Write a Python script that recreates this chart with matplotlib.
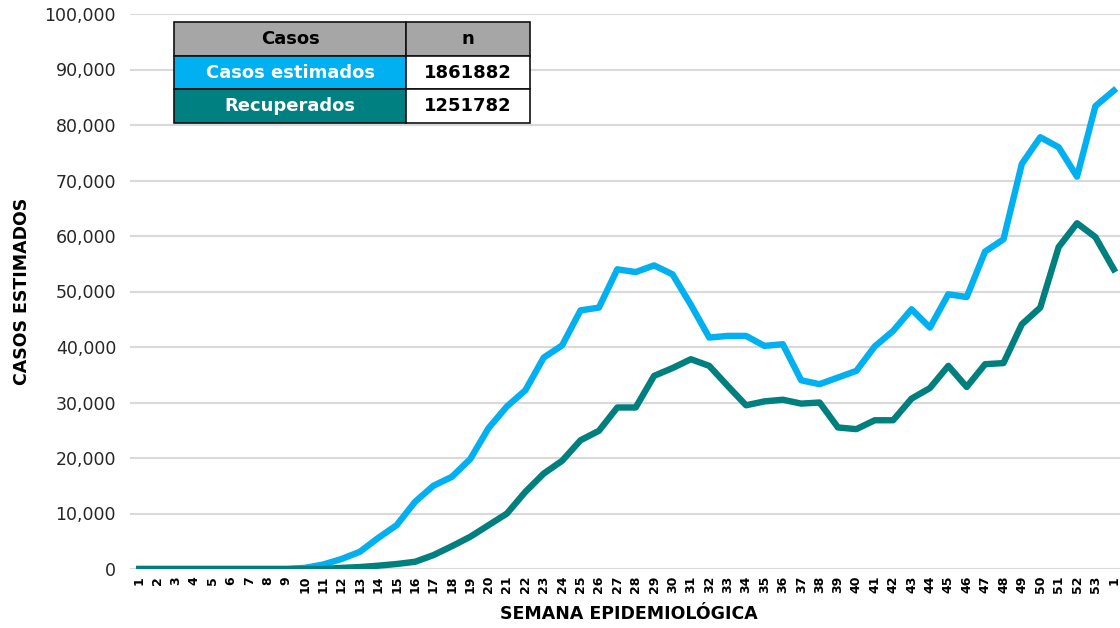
import numpy as np
from matplotlib import pyplot as plt

# semanas epidemiologicas (53 + semana 1 del año siguiente)
semanas = [str(i) for i in range(1, 54)] + ['1']

casos_estimados = [0, 0, 0, 0, 0, 0, 0, 0, 0, 200,
                   800, 1800, 3100, 5600, 7900, 12100, 15000, 16600, 19800, 25400,
                   29300, 32200, 38100, 40300, 46600, 47100, 54000, 53500, 54700, 53100,
                   47600, 41700, 42000, 42000, 40200, 40500, 34000, 33300, 34500, 35700,
                   40100, 42900, 46800, 43500, 49500, 49000, 57200, 59400, 73000, 77800,
                   76000, 70700, 83400, 86200]

recuperados = [0, 0, 0, 0, 0, 0, 0, 0, 0, 0,
               0, 200, 350, 600, 900, 1300, 2500, 4100, 5800, 7900,
               10000, 13900, 17200, 19500, 23200, 24900, 29100, 29100, 34800, 36200,
               37800, 36600, 33000, 29500, 30200, 30500, 29800, 30000, 25500, 25200,
               26800, 26800, 30700, 32600, 36600, 32800, 36900, 37100, 44100, 47100,
               58000, 62300, 59800, 54000]

tabla_casos = ['Casos estimados', 'Recuperados']
tabla_n = ['1861882', '1251782']

azul = '#00B0F0'
verde = '#007F7F'

plt.rcParams['font.family'] = ['DejaVu Sans']

fig = plt.figure(figsize=(11.2, 6.28), dpi=100)
ax = fig.add_axes([130 / 1120, 59 / 628, 993 / 1120, 555 / 628])

x = np.arange(len(semanas))
ax.plot(x, casos_estimados, color=azul, lw=4.6, solid_joinstyle='round', zorder=3)
ax.plot(x, recuperados, color=verde, lw=4.6, solid_joinstyle='round', zorder=4)

ax.set_xlim(-0.5, len(semanas) - 0.5)
ax.set_ylim(0, 100000)
ax.set_yticks(np.arange(0, 100001, 10000))
ax.set_yticklabels([f'{v:,}' for v in range(0, 100001, 10000)], fontsize=12.5, color='#262626')
ax.set_xticks(x)
ax.set_xticklabels(semanas, rotation=90, fontsize=9, fontweight='bold')
ax.tick_params(axis='both', length=0)
ax.tick_params(axis='y', pad=10)
ax.tick_params(axis='x', pad=5)
ax.grid(axis='y', color='#D9D9D9', lw=1.5)
ax.set_axisbelow(True)
for s in ax.spines.values():
    s.set_visible(False)

ax.set_ylabel('CASOS ESTIMADOS', fontsize=12.5, fontweight='bold')
ax.yaxis.set_label_coords(-0.1, 0.5)
fig.text(629 / 1120, 14 / 628, 'SEMANA EPIDEMIOLÓGICA', ha='center', va='center',
         fontsize=12.5, fontweight='bold')

# tabla resumen
tax = fig.add_axes([174 / 1120, 1 - 123 / 628, 356 / 1120, 101 / 628])
tax.axis('off')
cell_text = [['Casos', 'n']] + [[c, n] for c, n in zip(tabla_casos, tabla_n)]
tab = tax.table(cellText=cell_text, bbox=[0, 0, 1, 1], colWidths=[232 / 356, 124 / 356],
                cellLoc='center')
tab.auto_set_font_size(False)
colores_fila = ['#A6A6A6', azul, '#008080']
for (r, c), cell in tab.get_celld().items():
    cell.set_edgecolor('#111111')
    cell.set_linewidth(1.2)
    cell.get_text().set_fontsize(13)
    cell.get_text().set_fontweight('bold')
    if c == 0:
        cell.set_facecolor(colores_fila[r])
        cell.get_text().set_color('black' if r == 0 else 'white')
    else:
        cell.set_facecolor('#A6A6A6' if r == 0 else 'white')
        cell.get_text().set_color('black')

fig.savefig('out.png', dpi=100)
